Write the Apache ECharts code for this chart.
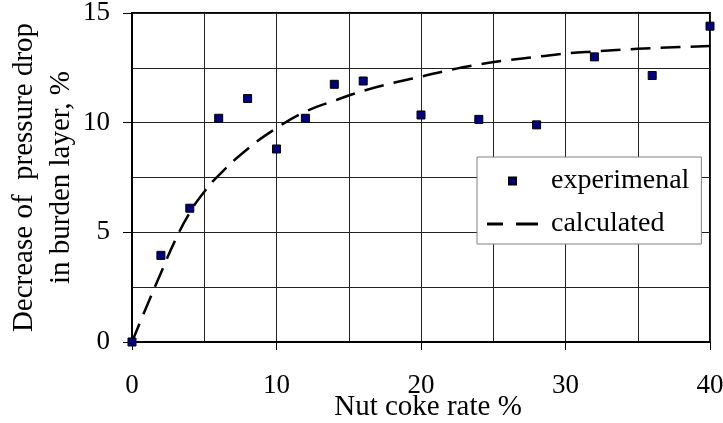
<!DOCTYPE html>
<html>
<head>
<meta charset="utf-8">
<title>Nut coke rate</title>
<script src="https://cdn.jsdelivr.net/npm/echarts@6/dist/echarts.min.js"></script>
</head>
<body style="margin:0;background:#fff">
<div id="main" style="width:723px;height:423px;"></div>
<script>
// measured points
var expX = [0, 2, 4, 6, 8, 10, 12, 14, 16, 20, 24, 28, 32, 36, 40];
var expY = [0, 3.95, 6.1, 10.2, 11.1, 8.8, 10.2, 11.75, 11.9, 10.35, 10.15, 9.9, 13.0, 12.15, 14.4];
// calculated curve
var calcX = [0, 1, 2, 3, 4, 5, 6, 8, 10, 12, 14, 16, 18, 20, 22, 24, 26, 28, 30, 32, 34, 36, 38, 40];
var calcY = [0, 1.6, 3.15, 4.65, 5.9, 6.85, 7.6, 8.8, 9.75, 10.5, 11.0, 11.45, 11.8, 12.1, 12.4, 12.65, 12.85, 13.0, 13.15, 13.25, 13.33, 13.4, 13.45, 13.5];

var font = 'Liberation Serif';
var chart = echarts.init(document.getElementById('main'));

function pairs(xs, ys) {
    return xs.map(function (x, i) { return [x, ys[i]]; });
}

chart.setOption({
    animation: false,
    backgroundColor: '#fff',
    textStyle: {fontFamily: font, color: '#000'},
    grid: {
        left: 132, right: 13, top: 13, bottom: 81,
        containLabel: false, outerBoundsMode: 'none',
        show: true, borderColor: '#000', borderWidth: 2
    },
    legend: {
        orient: 'vertical',
        left: 477, top: 157,
        padding: [10, 12, 6, 10],
        itemGap: 15,
        itemWidth: 51, itemHeight: 7,
        symbolKeepAspect: true,
        backgroundColor: '#fff',
        borderColor: '#808080', borderWidth: 1,
        textStyle: {fontFamily: font, fontSize: 28, color: '#000', padding: [0, 0, 0, 8]},
        data: [
            {name: 'experimenal', icon: 'path://M0 0H10V10H0Z'},
            {name: 'calculated', icon: 'path://M0 0H16V3H0Z M29 0H51V3H29Z'}
        ]
    },
    xAxis: {
        type: 'value', min: 0, max: 40, interval: 10,
        name: 'Nut coke rate %', nameLocation: 'middle', nameGap: 51,
        nameMoveOverlap: false,
        nameTextStyle: {fontFamily: font, fontSize: 29, color: '#000', padding: [0, 0, 0, 14]},
        axisLine: {lineStyle: {color: '#000', width: 2}},
        axisTick: {show: true, length: 8, lineStyle: {color: '#000', width: 1}},
        axisLabel: {margin: 30, fontFamily: font, fontSize: 27, color: '#000'},
        splitLine: {show: true, lineStyle: {color: '#222', width: 1}},
        minorTick: {show: false, splitNumber: 2},
        minorSplitLine: {show: true, lineStyle: {color: '#222', width: 1}}
    },
    yAxis: {
        type: 'value', min: 0, max: 15, interval: 5,
        name: 'Decrease of  pressure drop\nin burden layer, %',
        nameLocation: 'middle', nameGap: 52,
        nameMoveOverlap: false,
        nameTruncate: {maxWidth: 600},
        nameTextStyle: {fontFamily: font, fontSize: 29, color: '#000', lineHeight: 37, align: 'center', overflow: 'none'},
        axisLine: {lineStyle: {color: '#000', width: 2}},
        axisTick: {show: true, length: 9, lineStyle: {color: '#000', width: 1}},
        axisLabel: {margin: 22, fontFamily: font, fontSize: 27, color: '#000'},
        splitLine: {show: true, lineStyle: {color: '#222', width: 1}},
        minorTick: {show: false, splitNumber: 2},
        minorSplitLine: {show: true, lineStyle: {color: '#222', width: 1}}
    },
    series: [
        {
            name: 'calculated',
            type: 'line',
            smooth: true,
            symbol: 'none',
            lineStyle: {color: '#000', width: 2.5, type: [20, 10]},
            itemStyle: {color: '#000'},
            data: pairs(calcX, calcY),
            z: 3
        },
        {
            name: 'experimenal',
            type: 'scatter',
            symbol: 'rect',
            symbolSize: 8,
            itemStyle: {color: '#000080', borderColor: '#000', borderWidth: 1, opacity: 1},
            data: pairs(expX, expY),
            z: 4
        }
    ]
});
</script>
</body>
</html>
